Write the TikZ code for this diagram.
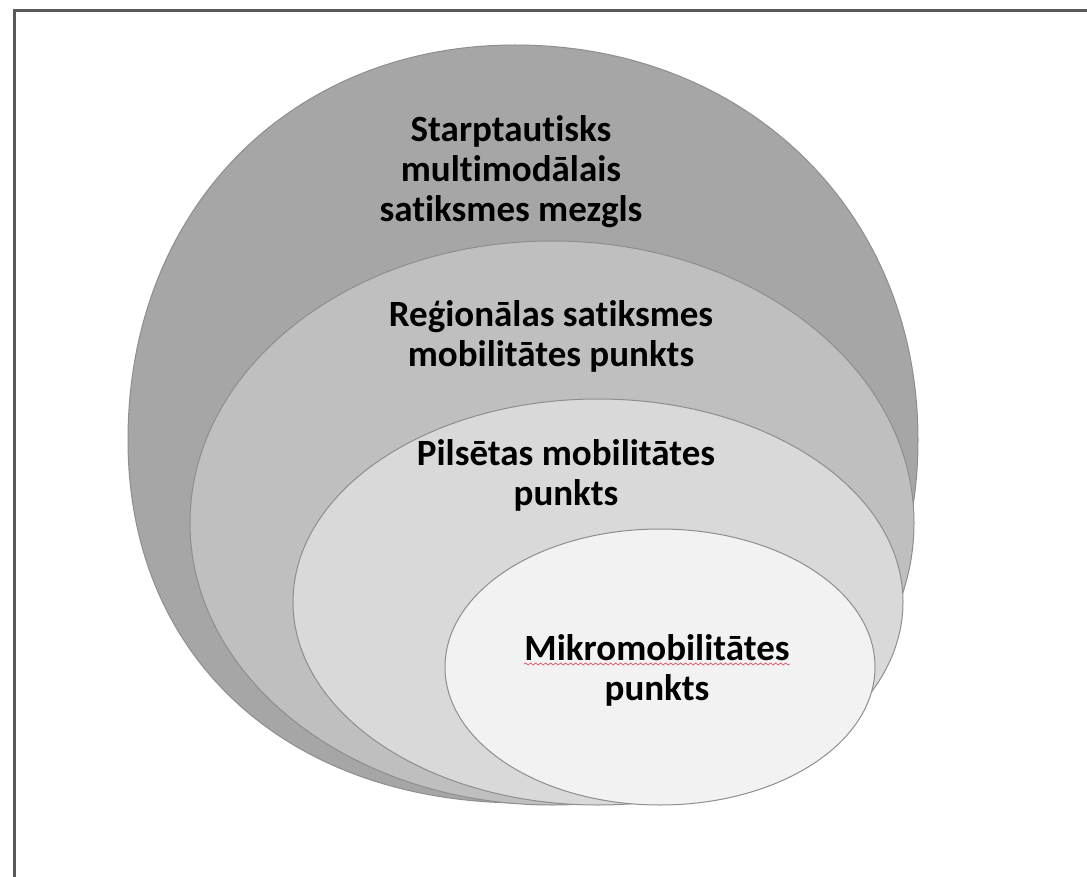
\documentclass[tikz,border=0pt]{standalone}
\usepackage{fontspec}
\setmainfont{Carlito}[RawFeature={-liga;-clig;-dlig;-calt}]
\definecolor{ringA}{HTML}{A6A6A6}
\definecolor{ringB}{HTML}{BFBFBF}
\definecolor{ringC}{HTML}{D9D9D9}
\definecolor{ringD}{HTML}{F2F2F2}
\definecolor{edgegray}{HTML}{8E8E8E}
\definecolor{framegray}{HTML}{5A5A5A}
\definecolor{spellred}{HTML}{E06070}
\usetikzlibrary{positioning, decorations.pathmorphing}

\begin{document}
\begin{tikzpicture}[x=0.5pt, y=-0.5pt,
    ring/.style={draw=edgegray, line width=0.5pt},
    lbl/.style={font=\fontsize{18.5}{20}\selectfont\bfseries, align=center, inner sep=0pt}]
  \useasboundingbox (0,0) rectangle (1087,877);
  \fill[white] (0,0) rectangle (1087,877);

  % frame, cut at the right and bottom
  \draw[line width=1.5pt, framegray] (14,877) -- (14,11) -- (1087,11);

  % international hub
  \path[ring, fill=ringA] (918,440) .. controls (918,210) and (745,45) .. (515,45)
    .. controls (290,45) and (128,210) .. (128,440)
    .. controls (128,660) and (290,803) .. (523,803)
    .. controls (760,803) and (918,660) .. (918,440) -- cycle;
  \node[lbl] (intl) at (511,172) {Starptautisks\\multimodālais\\satiksmes mezgls};

  % regional point
  \path[ring, fill=ringB] (552,523) ellipse [x radius=362, y radius=282];
  \node[lbl] (regional) at (551,336) {Reģionālas satiksmes\\mobilitātes punkts};

  % city point
  \path[ring, fill=ringC] (598,602) ellipse [x radius=305, y radius=203];
  \node[lbl] (city) at (566,475) {Pilsētas mobilitātes\\punkts};

  % micromobility point
  \path[ring, fill=ringD] (660,667) ellipse [x radius=215, y radius=138];
  \node[lbl, anchor=base] (mikroA) at (657,660) {Mikromobilitātes};
  \node[lbl, anchor=base] (mikroB) at ([yshift=-20pt]mikroA.base) {punkts};
  \draw[spellred, line width=0.4pt, decorate, decoration={snake, amplitude=0.5pt, segment length=2.5pt}]
    ([yshift=-2pt]mikroA.base west) -- ([yshift=-2pt]mikroA.base east);
\end{tikzpicture}
\end{document}
